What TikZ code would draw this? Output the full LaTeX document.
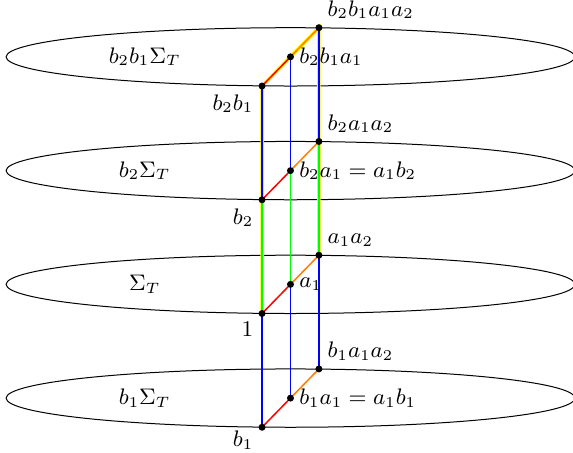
\documentclass[tikz,border=0pt]{standalone}
\usetikzlibrary{calc}

\begin{document}
\begin{tikzpicture}[every node/.style={font=\small},
    pt/.style={circle,fill=black,inner sep=0pt,minimum size=2.8pt},
    hilite/.style={yellow,line width=1.4pt},
    edge/.style={line width=0.6pt}]
  \useasboundingbox (-4.086,-0.772) rectangle (3.974,5.60);
  % the four planes
  \foreach \y/\nm/\lab in {0/bot/{b_1\Sigma_T},1.6/mid/{\Sigma_T},3.2/upp/{b_2\Sigma_T},4.8/top/{b_2b_1\Sigma_T}} {
    \draw (0,\y) ellipse (4 and 0.41);
    \node (plane-\nm) at (-2.05,\y) {$\lab$};
  }
  % points: left, centre, right in each plane
  \coordinate (b1)     at (-0.40,-0.41);
  \coordinate (b1a1)   at (0,0);
  \coordinate (b1a1a2) at (0.40,0.41);
  \coordinate (e)      at (-0.40,1.19);
  \coordinate (a1)     at (0,1.6);
  \coordinate (a1a2)   at (0.40,2.01);
  \coordinate (b2)     at (-0.40,2.79);
  \coordinate (b2a1)   at (0,3.2);
  \coordinate (b2a1a2) at (0.40,3.61);
  \coordinate (b2b1)     at (-0.40,4.39);
  \coordinate (b2b1a1)   at (0,4.8);
  \coordinate (b2b1a1a2) at (0.40,5.21);
  % highlighted loop
  \draw[hilite] (e) -- (b2) -- (b2b1) -- (b2b1a1a2) -- (b2a1a2) -- (a1a2);
  % vertical connectors
  \draw[edge,blue] (b1) -- (e);
  \draw[edge,blue] (b1a1) -- (a1);
  \draw[edge,blue] (b1a1a2) -- (a1a2);
  \draw[edge,green] (e) -- (b2);
  \draw[edge,green] (a1) -- (b2a1);
  \draw[edge,green] (a1a2) -- (b2a1a2);
  \draw[edge,blue] (b2) -- (b2b1);
  \draw[edge,blue] (b2a1) -- (b2b1a1);
  \draw[edge,blue] (b2a1a2) -- (b2b1a1a2);
  % diagonals in each plane
  \foreach \pl/\pc/\pr in {b1/b1a1/b1a1a2,e/a1/a1a2,b2/b2a1/b2a1a2,b2b1/b2b1a1/b2b1a1a2} {
    \draw[edge,red] (\pl) -- (\pc);
    \draw[edge,orange] (\pc) -- (\pr);
  }
  % dots and labels
  \foreach \p in {b1,b1a1,b1a1a2,e,a1,a1a2,b2,b2a1,b2a1a2,b2b1,b2b1a1,b2b1a1a2}
    \node[pt] (n-\p) at (\p) {};
  \node[below left,yshift=2pt] (l-b1) at (b1) {$b_1$};
  \node[right]       (l-b1a1)   at (b1a1) {$b_1a_1 = a_1b_1$};
  \node[above right] (l-b1a1a2) at (b1a1a2) {$b_1a_1a_2$};
  \node[below left]  (l-e)      at (e) {$1$};
  \node[right]       (l-a1)     at (a1) {$a_1$};
  \node[above right] (l-a1a2)   at (a1a2) {$a_1a_2$};
  \node[below left]  (l-b2)     at (b2) {$b_2$};
  \node[right]       (l-b2a1)   at (b2a1) {$b_2a_1 = a_1b_2$};
  \node[above right] (l-b2a1a2) at (b2a1a2) {$b_2a_1a_2$};
  \node[below left]  (l-b2b1)   at (b2b1) {$b_2b_1$};
  \node[right]       (l-b2b1a1) at (b2b1a1) {$b_2b_1a_1$};
  \node[above right] (l-b2b1a1a2) at (b2b1a1a2) {$b_2b_1a_1a_2$};
\end{tikzpicture}
\end{document}
